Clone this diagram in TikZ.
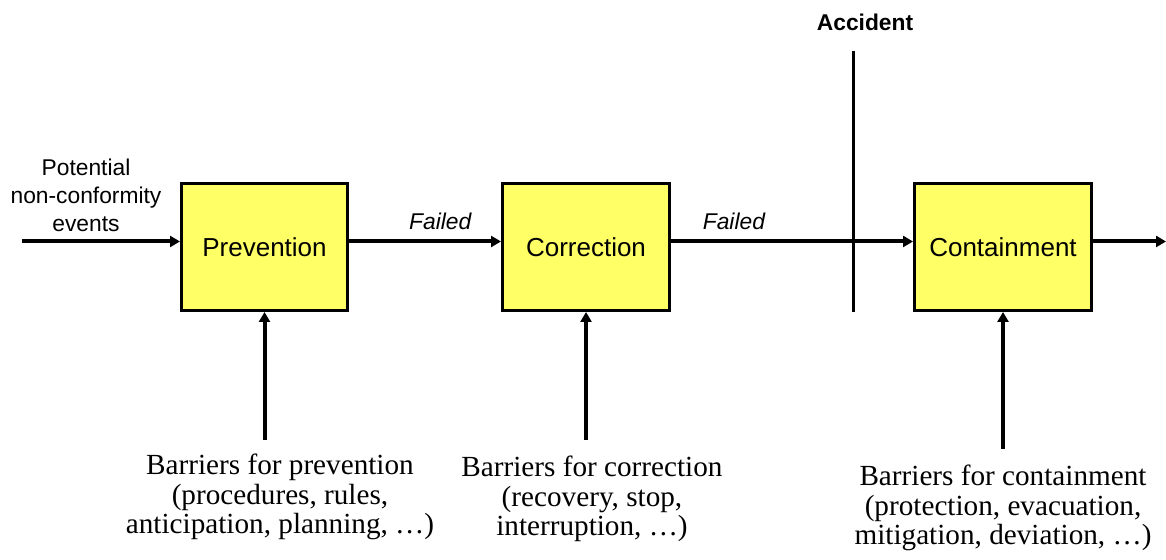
\documentclass[tikz,border=0pt]{standalone}
\usepackage{fontspec}
\setmainfont{Liberation Serif}
\setsansfont{Liberation Sans}
\usetikzlibrary{positioning}
\usetikzlibrary{arrows.meta}
\definecolor{boxyellow}{RGB}{255,255,102}
\tikzset{
	stage/.style={draw,line width=1.5pt,fill=boxyellow,minimum height=63.5pt,font=\sffamily\fontsize{13}{15}\selectfont},
	flow/.style={line width=2pt,-{Triangle[length=5pt,width=5.5pt]}},
	small/.style={font=\sffamily\fontsize{11.4}{14}\selectfont,inner sep=0pt,align=center},
	barrier/.style={font=\fontsize{14.6}{14.75}\selectfont,inner sep=0pt,align=center}
}
\begin{document}
\begin{tikzpicture}[x=0.5pt,y=-0.5pt]
	\useasboundingbox (0,0) rectangle (1166,560);
	\node[stage,minimum width=83pt] at (264.5,247) (prev) {Prevention};
	\node[stage,minimum width=83.5pt,right=76pt of prev] (corr) {Correction};
	\node[stage,minimum width=88.5pt,right=121pt of corr] (cont) {Containment};
	
	\coordinate (in) at (22,241.5);
	\coordinate (out) at (1166,241.5);
	\node[small,anchor=south] at (86,232) (pot) {Potential\\non-conformity\\events};
	\draw[flow] (in) -- (prev.west |- in);
	\draw[flow] ([yshift=2.75pt]prev.east) -- node[small,above=5pt,pos=0.6] (fail1) {\itshape Failed} ([yshift=2.75pt]corr.west);
	\draw[flow] ([yshift=2.75pt]corr.east) -- node[small,above=5pt,pos=0.26] (fail2) {\itshape Failed} ([yshift=2.75pt]cont.west);
	\draw[flow] ([yshift=2.75pt]cont.east) -- (out);
	
	\node[small,font=\sffamily\bfseries\fontsize{11.4}{14}\selectfont,anchor=base] at (865,31) (acc) {Accident};
	\coordinate (acctop) at (853,51);
	\coordinate (accbot) at (853,312);
	\draw[line width=1.5pt] (acctop) -- (accbot);
	
	\node[barrier,below=71pt of prev,xshift=7.75pt] (bprev) {Barriers for prevention\\(procedures, rules,\\anticipation, planning, …)};
	\node[barrier,below=72pt of corr,xshift=3pt] (bcorr) {Barriers for correction\\(recovery, stop,\\interruption, …)};
	\node[barrier,below=76.5pt of cont] (bcont) {Barriers for containment\\(protection, evacuation,\\mitigation, deviation, …)};
	\draw[flow] (prev.south |- bprev.north) ++(0,-14) -- (prev.south);
	\draw[flow] (corr.south |- bcorr.north) ++(0,-16) -- (corr.south);
	\draw[flow] (cont.south |- bcont.north) ++(0,-16) -- (cont.south);
\end{tikzpicture}
\end{document}
